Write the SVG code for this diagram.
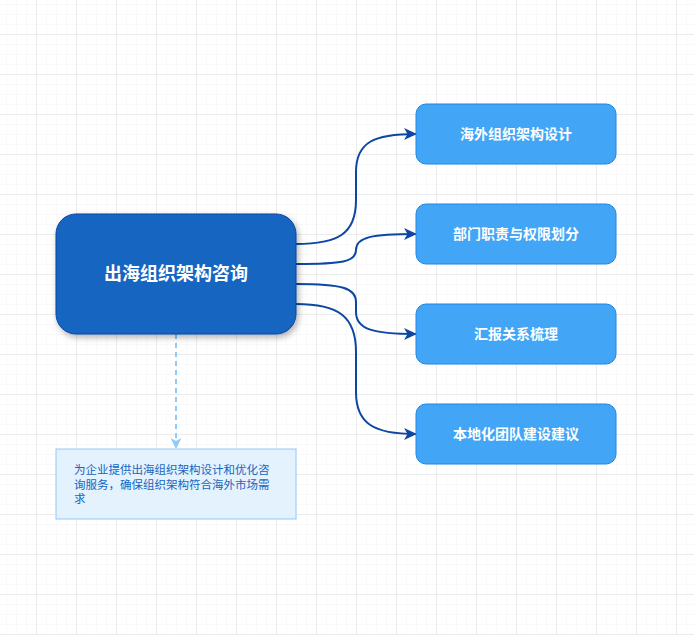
<svg xmlns="http://www.w3.org/2000/svg" width="694" height="635" viewBox="0 0 694 635">
<defs>
<pattern id="minor" x="6" y="4" width="10" height="10" patternUnits="userSpaceOnUse">
<path d="M0,0 V10 M0,0 H10" fill="none" stroke="#f3f3f3" stroke-width="1"/>
</pattern>
<pattern id="major" x="36" y="34" width="40" height="40" patternUnits="userSpaceOnUse">
<path d="M0,0 V40 M0,0 H40" fill="none" stroke="#e0e0e0" stroke-width="1"/>
</pattern>
<marker id="arr" viewBox="0 0 13 12" refX="12" refY="6" markerWidth="13" markerHeight="12" markerUnits="userSpaceOnUse" orient="auto">
<path d="M0,0 L13,6 L0,12 L3.5,6 Z" fill="#0D47A1"/>
</marker>
<marker id="arrL" viewBox="0 0 11 11" refX="10" refY="5.5" markerWidth="11" markerHeight="11" markerUnits="userSpaceOnUse" orient="auto">
<path d="M0,0 L11,5.5 L0,11 L3,5.5 Z" fill="#90CAF9"/>
</marker>
<filter id="sh" x="-20%" y="-20%" width="140%" height="150%">
<feDropShadow dx="2" dy="3" stdDeviation="3" flood-color="#000" flood-opacity="0.3"/>
</filter>
</defs>
<style>
.child rect{fill:#42A5F5;stroke:#1E88E5;stroke-width:1}
.child text{fill:#fff;font-family:"Noto Sans CJK SC","Liberation Sans",sans-serif;font-size:14px;font-weight:bold;text-anchor:middle}
.edge{fill:none;stroke:#0D47A1;stroke-width:2;marker-end:url(#arr)}
</style>
<rect width="694" height="635" fill="#fff"/>
<rect width="694" height="635" fill="url(#minor)"/>
<rect width="694" height="635" fill="url(#major)"/>

<g id="connectors">
<path class="edge" d="M296,244 C338,244 356,234 356,200 L356,172 C356,142 374,134 416,134"/>
<path class="edge" d="M296,264 C342,264 356,262 356,250 C356,237 372,234 416,234"/>
<path class="edge" d="M296,284 C342,284 356,288 356,302 L356,312 C356,329 372,334 416,334"/>
<path class="edge" d="M296,304 C338,304 356,316 356,352 L356,392 C356,424 374,434 416,434"/>
<path d="M176,334 L176,448" fill="none" stroke="#90CAF9" stroke-width="2" stroke-dasharray="5 4" marker-end="url(#arrL)"/>
</g>

<g id="main">
<rect x="56" y="214" width="240" height="120" rx="20" fill="#1565C0" stroke="#0D47A1" stroke-width="1" filter="url(#sh)"/>
<text x="176" y="280" fill="#fff" font-family="Noto Sans CJK SC, Liberation Sans, sans-serif" font-size="18" font-weight="bold" text-anchor="middle">出海组织架构咨询</text>
</g>

<g id="n1" class="child">
<rect x="416" y="104" width="200" height="60" rx="10"/>
<text x="516" y="139">海外组织架构设计</text>
</g>
<g id="n2" class="child">
<rect x="416" y="204" width="200" height="60" rx="10"/>
<text x="516" y="239">部门职责与权限划分</text>
</g>
<g id="n3" class="child">
<rect x="416" y="304" width="200" height="60" rx="10"/>
<text x="516" y="339">汇报关系梳理</text>
</g>
<g id="n4" class="child">
<rect x="416" y="404" width="200" height="60" rx="10"/>
<text x="516" y="439">本地化团队建设建议</text>
</g>

<g id="desc">
<rect x="56" y="449" width="240" height="70" fill="#E3F2FD" stroke="#90CAF9" stroke-width="1"/>
<text font-family="Noto Sans CJK SC, Liberation Sans, sans-serif" font-size="11.5" fill="#1565C0">
<tspan x="74" y="474">为企业提供出海组织架构设计和优化咨</tspan>
<tspan x="74" y="488.5">询服务，确保组织架构符合海外市场需</tspan>
<tspan x="74" y="503">求</tspan>
</text>
</g>
</svg>
